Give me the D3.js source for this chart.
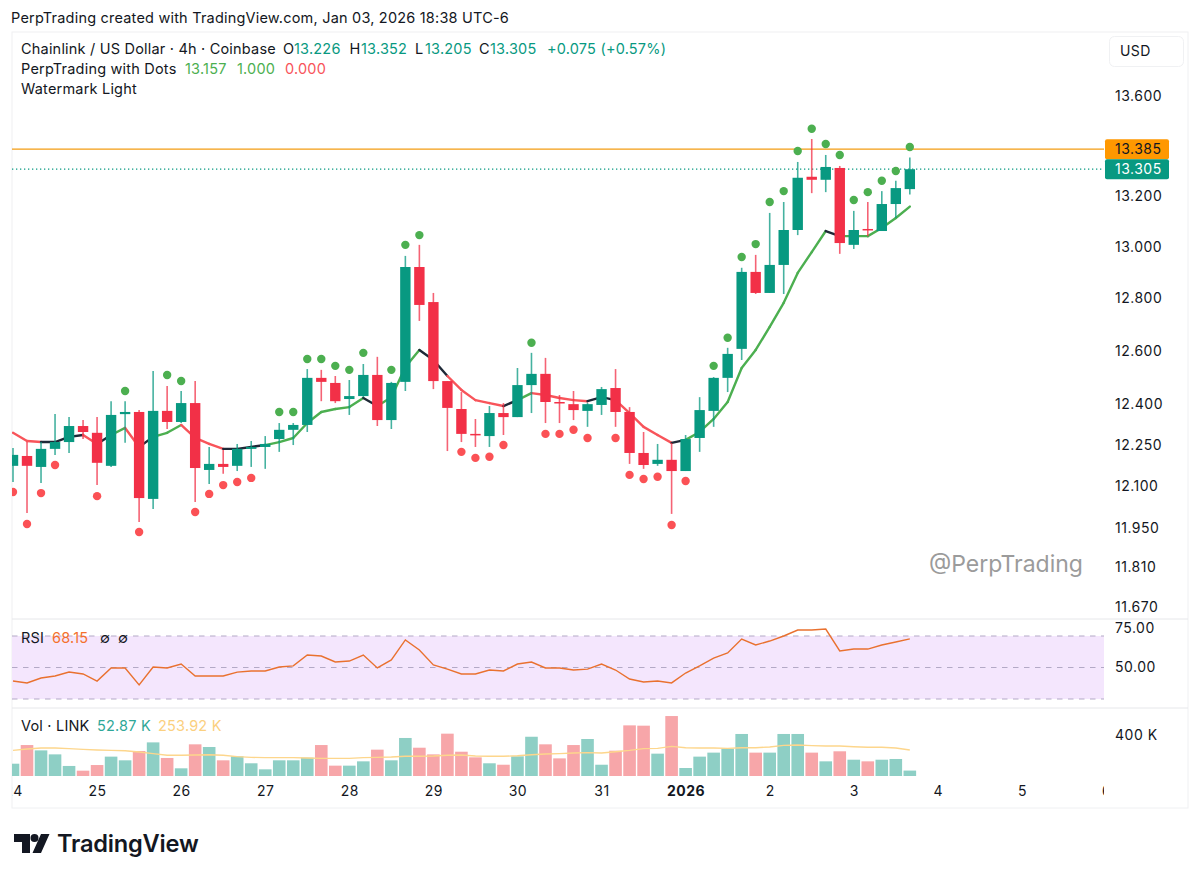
<!DOCTYPE html>
<html><head><meta charset="utf-8">
<script src="https://cdn.jsdelivr.net/npm/d3@7"></script>
<style>
html,body{margin:0;padding:0;background:#fff}
svg{display:block}
text{font-family:Inter,"Noto Sans",sans-serif;fill:#131722}
</style></head><body>
<svg id="c" width="1200" height="879"></svg>
<script>
const opens=[12.174,12.210,12.170,12.236,12.261,12.320,12.295,12.174,12.364,12.372,12.054,12.376,12.335,12.405,12.159,12.181,12.174,12.236,12.243,12.272,12.306,12.324,12.499,12.480,12.420,12.431,12.510,12.342,12.484,12.921,12.786,12.487,12.383,12.291,12.283,12.368,12.353,12.472,12.514,12.409,12.401,12.376,12.398,12.461,12.372,12.221,12.181,12.196,12.155,12.276,12.376,12.499,12.608,12.902,12.821,12.929,13.065,13.275,13.263,13.310,13.007,13.069,13.061,13.167,13.226];
const highs=[12.239,12.261,12.261,12.364,12.353,12.342,12.353,12.412,12.412,12.379,12.525,12.469,12.450,12.487,12.243,12.232,12.254,12.265,12.283,12.331,12.331,12.532,12.529,12.506,12.491,12.551,12.578,12.484,12.964,13.007,12.821,12.487,12.446,12.346,12.394,12.405,12.536,12.593,12.574,12.435,12.450,12.405,12.465,12.532,12.390,12.298,12.254,12.258,12.287,12.427,12.502,12.612,12.918,12.968,13.132,13.175,13.334,13.426,13.362,13.318,13.140,13.175,13.218,13.259,13.352];
const lows=[12.115,12.003,12.112,12.214,12.221,12.272,12.104,12.170,12.258,11.971,12.018,12.309,12.331,12.043,12.108,12.145,12.155,12.170,12.163,12.225,12.250,12.298,12.412,12.405,12.361,12.427,12.320,12.309,12.450,12.714,12.457,12.228,12.261,12.243,12.243,12.287,12.353,12.368,12.331,12.331,12.342,12.317,12.361,12.317,12.181,12.163,12.174,12.000,12.155,12.225,12.317,12.446,12.566,12.817,12.821,12.817,13.045,13.210,13.214,12.972,12.991,13.041,13.061,13.112,13.205];
const closes=[12.214,12.174,12.236,12.261,12.320,12.298,12.185,12.361,12.372,12.057,12.376,12.335,12.405,12.166,12.181,12.170,12.236,12.243,12.254,12.306,12.324,12.499,12.484,12.412,12.431,12.510,12.342,12.480,12.921,12.775,12.487,12.387,12.291,12.287,12.368,12.353,12.472,12.514,12.409,12.405,12.379,12.401,12.457,12.372,12.221,12.177,12.196,12.155,12.272,12.379,12.499,12.589,12.902,12.821,12.929,13.065,13.271,13.263,13.314,13.014,13.065,13.065,13.167,13.230,13.305];
const trend=[12.295,12.265,12.261,12.261,12.280,12.287,12.254,12.287,12.313,12.243,12.280,12.295,12.324,12.276,12.254,12.236,12.236,12.243,12.250,12.261,12.276,12.331,12.372,12.383,12.390,12.424,12.394,12.427,12.540,12.604,12.566,12.506,12.454,12.416,12.405,12.394,12.416,12.442,12.435,12.424,12.416,12.412,12.427,12.416,12.368,12.317,12.287,12.258,12.269,12.298,12.346,12.409,12.536,12.604,12.691,12.783,12.898,12.979,13.061,13.041,13.041,13.041,13.073,13.112,13.157];
const trendState=["r","r","r","k","k","k","r","k","g","r","k","g","g","r","r","r","k","k","k","g","g","g","g","g","g","g","k","g","g","g","k","k","r","r","r","r","k","g","r","r","r","r","k","k","r","r","r","r","k","g","g","g","g","g","g","g","g","g","g","k","g","g","g","g","g"];
const dotsUp=[[8,12.450],[11,12.510],[12,12.487],[19,12.372],[20,12.372],[21,12.570],[22,12.570],[23,12.544],[24,12.529],[25,12.593],[27,12.529],[28,13.007],[29,13.045],[37,12.631],[50,12.544],[51,12.650],[52,12.960],[53,13.010],[54,13.175],[55,13.218],[56,13.378],[57,13.467],[58,13.406],[59,13.362],[60,13.183],[61,13.214],[62,13.259],[63,13.298],[64,13.394]];
const dotsDown=[[0,12.079],[1,11.964],[2,12.075],[3,12.177],[6,12.064],[9,11.935],[13,12.007],[14,12.072],[15,12.104],[16,12.115],[17,12.130],[32,12.225],[33,12.203],[34,12.207],[35,12.250],[38,12.291],[39,12.291],[40,12.306],[41,12.276],[43,12.276],[44,12.141],[45,12.126],[46,12.134],[47,11.960],[48,12.119]];
const rsi=[41.4,40.2,43.3,44.6,47.1,45.9,41.4,49.7,49.7,38.9,50.3,49.7,52.2,44.6,44.6,44.6,47.1,47.8,47.8,50.3,51,57.9,57.3,53.5,54.1,57.9,49.7,54.8,67.5,61.1,51.6,49,45.9,45.9,48.4,47.8,52.2,53.5,49.7,49.7,48.4,49,52.2,48.4,42.7,40.8,41.4,40.2,46.5,51,56,59.2,68.1,64.3,66.8,70,73.8,73.8,74.4,60.5,61.7,61.7,64.3,66.2,68.15];
const volume=[120,302,250,211,98,52,107,189,153,244,328,176,75,309,283,153,192,124,65,153,153,179,302,101,101,143,257,153,371,276,211,413,237,182,124,110,192,383,309,172,302,361,110,247,494,491,218,585,78,189,228,267,410,228,228,410,410,228,143,241,159,143,159,166,52.87];
const volumeMA=[250,263,273,273,267,260,254,250,247,234,218,202,202,205,208,202,189,182,179,179,179,176,172,172,172,179,182,185,192,192,195,202,205,195,192,192,198,208,215,218,224,228,224,237,250,267,270,289,276,273,273,270,276,276,283,299,302,296,293,293,286,280,280,273,253.92];
const priceTicks=[13.6,13.2,13.0,12.8,12.6,12.4,12.25,12.1,11.95,11.81,11.67];
const rsiTicks=[75,50];
const rsiBands=[70,50,30];
const volTicks=[400];
const dayTicks=[0,6,12,18,24,30,36,42,48,54,60,66,72,78];
const dayLabels=["24","25","26","27","28","29","30","31","2026","2","3","4","5","6"];
const highPrice=13.385, lastPrice=13.305;

const UP="#089981",DN="#f23047",GL="#4caf50",RL="#f8545a",KL="#1f2937";
const svg=d3.select("#c");
const x=d3.scaleLinear().domain([0,78]).range([13,1106]);
const y=d3.scaleLog().domain([13.6,11.67]).range([96,607]);
const yR=d3.scaleLinear().domain([70,30]).range([636,699]);
const yV=d3.scaleLinear().domain([0,400]).range([776,735]);
const defs=svg.append("defs");
defs.append("clipPath").attr("id","plot").append("rect").attr("x",12).attr("y",32).attr("width",1092).attr("height",776);

// frame
svg.append("rect").attr("x",12).attr("y",32).attr("width",1176).attr("height",776).attr("fill","none").attr("stroke","#eff0f2");
[619,708].forEach(v=>svg.append("line").attr("x1",12).attr("x2",1188).attr("y1",v).attr("y2",v).attr("stroke","#e6e7ea"));

const plot=svg.append("g").attr("clip-path","url(#plot)");
// trend line
for(let i=1;i<trend.length;i++){
  plot.append("line").attr("x1",x(i-1)).attr("y1",y(trend[i-1])).attr("x2",x(i)).attr("y2",y(trend[i]))
   .attr("stroke",{r:RL,g:GL,k:KL}[trendState[i]]).attr("stroke-width",2.4).attr("stroke-linecap","round");
}
// h-lines
plot.append("line").attr("x1",12).attr("x2",1104).attr("y1",y(highPrice)).attr("y2",y(highPrice)).attr("stroke","#f39c12").attr("stroke-width",1.2);
plot.append("line").attr("x1",12).attr("x2",1104).attr("y1",y(lastPrice)).attr("y2",y(lastPrice)).attr("stroke",UP).attr("stroke-width",1.3).attr("stroke-dasharray","1.3,2.7");
// candles
const idx=d3.range(opens.length);
const col=i=>closes[i]>=opens[i]?UP:DN;
plot.selectAll(".w").data(idx).join("line").attr("x1",x).attr("x2",x).attr("y1",i=>y(highs[i])).attr("y2",i=>y(lows[i]))
  .attr("stroke",col).attr("stroke-width",1.6).attr("opacity",.75);
plot.selectAll(".b").data(idx).join("rect").attr("x",i=>x(i)-5.2).attr("width",10.4)
  .attr("y",i=>y(Math.max(opens[i],closes[i]))).attr("height",i=>Math.max(1.5,Math.abs(y(opens[i])-y(closes[i])))).attr("fill",col);
// dots
plot.selectAll(".u").data(dotsUp).join("circle").attr("cx",d=>x(d[0])).attr("cy",d=>y(d[1])).attr("r",4.2).attr("fill",GL);
plot.selectAll(".d").data(dotsDown).join("circle").attr("cx",d=>x(d[0])).attr("cy",d=>y(d[1])).attr("r",4.2).attr("fill","#fb5155");

// RSI
plot.append("rect").attr("x",12).attr("width",1092).attr("y",yR(70)).attr("height",yR(30)-yR(70)).attr("fill","#f4e6fd");
plot.selectAll(".rb").data(rsiBands).join("line").attr("x1",12).attr("x2",1104).attr("y1",yR).attr("y2",yR)
  .attr("stroke","#b3a9c6").attr("stroke-width",1).attr("stroke-dasharray","5.5,5.5");
const rl=d3.line().x((d,i)=>x(i)).y(d=>yR(d));
plot.append("path").attr("d",rl(rsi)).attr("fill","none").attr("stroke","#e9712f").attr("stroke-width",1.4);

// Volume
plot.selectAll(".v").data(idx).join("rect").attr("x",i=>x(i)-6.3).attr("width",12.6)
  .attr("y",i=>yV(volume[i])).attr("height",i=>yV(0)-yV(volume[i]))
  .attr("fill",i=>closes[i]>=opens[i]?"#8ecfc5":"#f7a6a9");
const vl=d3.line().x((d,i)=>x(i)).y(d=>yV(d));
plot.append("path").attr("d",vl(volumeMA)).attr("fill","none").attr("stroke","#fdd68c").attr("stroke-width",1.4);

// axes
function styleAxis(g){g.select(".domain").remove();g.selectAll("line").remove();
  g.selectAll("text").style("font-family","Inter,'Noto Sans',sans-serif").style("letter-spacing","0.5px").style("font-size","14px").attr("fill","#131722");}
svg.append("g").attr("transform","translate(1105,0)")
  .call(d3.axisRight(y).tickValues(priceTicks).tickFormat(d3.format(".3f")).tickSize(0).tickPadding(10)).call(styleAxis);
svg.append("g").attr("transform","translate(1105,0)")
  .call(d3.axisRight(yR).tickValues(rsiTicks).tickFormat(d3.format(".2f")).tickSize(0).tickPadding(10)).call(styleAxis);
svg.append("g").attr("transform","translate(1105,0)")
  .call(d3.axisRight(yV).tickValues(volTicks).tickFormat(d=>d+" K").tickSize(0).tickPadding(10)).call(styleAxis);
const xAxis=svg.append("g").attr("clip-path","url(#plot)").append("g").attr("transform","translate(0,781)")
  .call(d3.axisBottom(x).tickValues(dayTicks).tickFormat((d,i)=>dayLabels[i]).tickSize(0).tickPadding(5)).call(styleAxis);
xAxis.selectAll("text").style("font-weight",(d,i)=>dayLabels[i]==="2026"?"700":"400");

// price tags
function tag(v,bg,fg){
  const yy=y(v);
  svg.append("rect").attr("x",1105).attr("width",64).attr("y",yy-10).attr("height",20).attr("rx",2).attr("fill",bg);
  svg.append("text").attr("x",1115).attr("y",yy).attr("dy","0.36em").style("font-size","14px").style("letter-spacing","0.5px").style("fill",fg).text(d3.format(".3f")(v));
}
tag(highPrice,"#ff9800","#131722");
tag(lastPrice,UP,"#fff");

// USD
svg.append("rect").attr("x",1109.5).attr("y",36.5).attr("width",74).attr("height",30).attr("rx",5).attr("fill","#fff").attr("stroke","#f0f1f3");
svg.append("text").attr("x",1120).attr("y",51).attr("dy","0.36em").style("font-size","14px").style("letter-spacing","0.4px").text("USD");

// legend
function row(yy,items){
  items.forEach(([t,xx,c])=>{svg.append("text").attr("x",xx).attr("y",yy).attr("dy","0.36em").style("font-size","14.5px").style("letter-spacing","0.2px").style("fill",c||"#131722").text(t);});
}
row(18,[["PerpTrading created with TradingView.com, Jan 03, 2026 18:38 UTC-6",11]]);
row(49,[["Chainlink / US Dollar · 4h · Coinbase",21],["O",283],["13.226",294,UP],["H",349.5],["13.352",361,UP],["L",415],["13.205",425,UP],["C",479],["13.305",490,UP],["+0.075 (+0.57%)",547,UP]]);
row(69,[["PerpTrading with Dots",21],["13.157",185,GL],["1.000",237,GL],["0.000",285,"#f8545a"]]);
row(89,[["Watermark Light",21]]);
row(638,[["RSI",21],["68.15",52,"#f4702c"],["∅",100],["∅",118]]);
row(726,[["Vol · LINK",21],["52.87 K",97,"#2fa798"],["253.92 K",158,"#fbd07f"]]);

// watermark
svg.append("text").attr("x",929).attr("y",564).attr("dy","0.36em").style("font-size","23px").style("fill","#9b9b9b").text("@PerpTrading");

// logo
const logo=svg.append("g");
logo.append("path").attr("d","M14 834H30V853H22V842H14Z M41 834H49.5L41 853H32.5Z").attr("fill","#131722");
logo.append("circle").attr("cx",34.5).attr("cy",838).attr("r",4).attr("fill","#131722");
svg.append("text").attr("x",57).attr("y",844).attr("dy","0.36em").style("font-size","23.6px").style("font-weight","600").style("letter-spacing","-0.2px").text("TradingView");
</script></body></html>
